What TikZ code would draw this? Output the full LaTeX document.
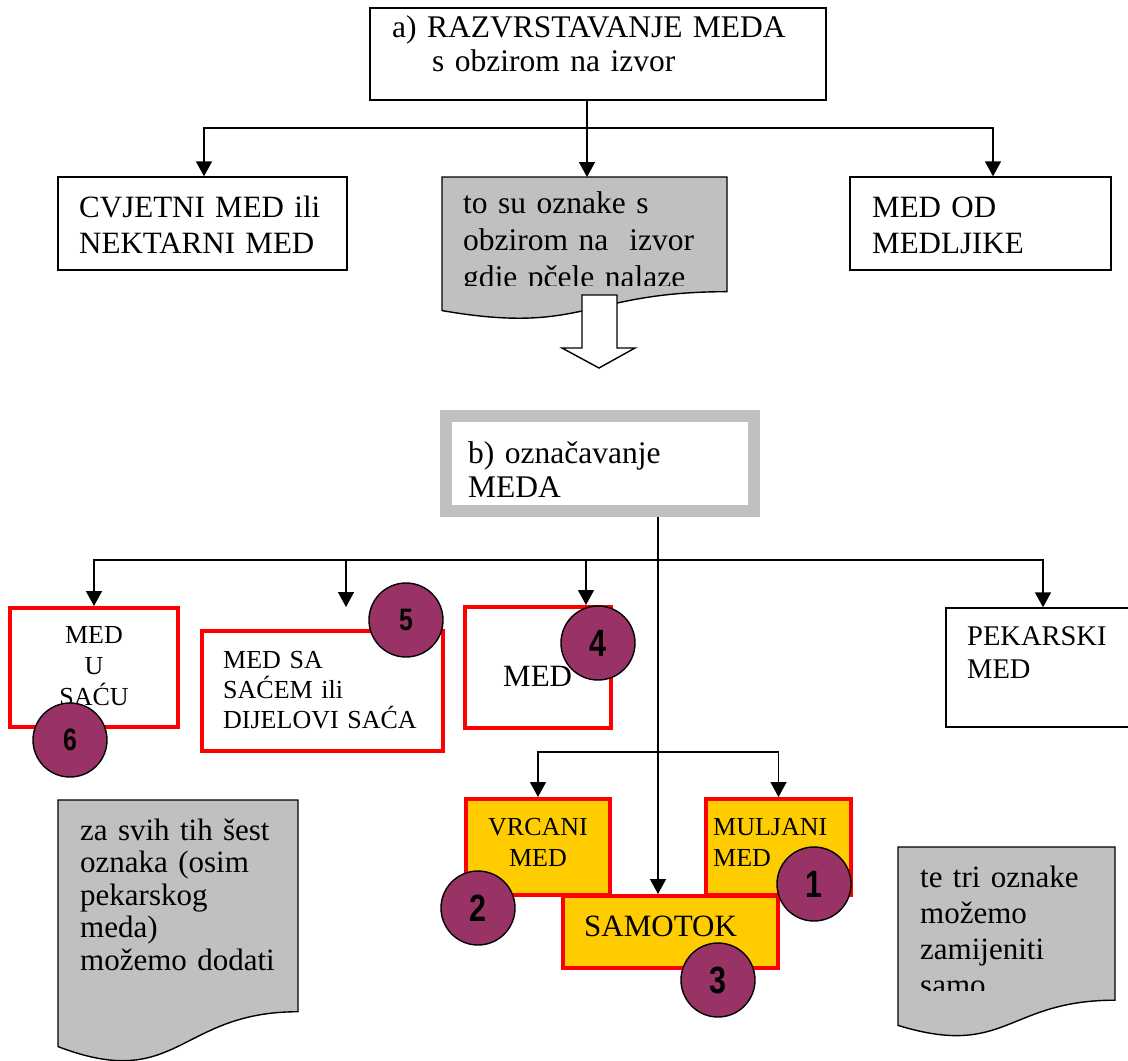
\documentclass[tikz,border=0pt]{standalone}
\usepackage{fontspec}
\setmainfont{Liberation Serif}
\setsansfont{Liberation Sans}
\usepackage{xcolor}
\usepackage{tikz}
\usetikzlibrary{arrows.meta}
\definecolor{honey}{HTML}{FFCC00}
\definecolor{badgeplum}{HTML}{993366}
\definecolor{notegray}{HTML}{C0C0C0}
\tikzset{%
  plainbox/.style={rectangle,draw=black,line width=1.4pt,fill=white,inner sep=0pt},
  redbox/.style={rectangle,draw=red,line width=4pt,fill=white,inner sep=0pt},
  honeybox/.style={redbox,fill=honey},
  graybox/.style={rectangle,draw=notegray,line width=12pt,fill=white,inner sep=0pt},
  notedoc/.style={draw=black,line width=1.4pt,fill=notegray},
  badge/.style={circle,draw=black,line width=1.4pt,fill=badgeplum,minimum size=74pt,inner sep=0pt},
  flow/.style={line width=1.5pt,-{Triangle[length=15pt,width=16pt]}},
  link/.style={line width=1.5pt},
  boxtext/.style={inner sep=0pt,anchor=base west,align=left,text width=480pt},
  midtext/.style={inner sep=0pt,anchor=base,align=center,text width=160pt}
}
\newcommand\fsz[2]{\fontsize{#1}{#2}\selectfont}
\newcommand\badgenum[2]{\scalebox{0.8}[1]{\fontsize{#1}{#1}\selectfont\sffamily\bfseries #2}}
\newcommand\notepath[4]{(#1,#2) -- ({#1+#3},#2) -- ({#1+#3},{#2+0.802*#4}) .. controls ({#1+0.5*#3},{#2+0.802*#4}) and ({#1+0.5*#3},{#2+1.108*#4}) .. (#1,{#2+0.934*#4}) -- cycle}

\begin{document}
\begin{tikzpicture}[x=1pt,y=-1pt]
    \useasboundingbox (0,0) rectangle (1128,1061);
    \node[plainbox,minimum width=456,minimum height=92](razbox) at (598,54){};
    \node[boxtext,font=\fsz{31.5}{34}](raztext) at (392,37){a) RAZVRSTAVANJE MEDA\\\hspace*{40pt}s obzirom na izvor};
    \node[plainbox,minimum width=289,minimum height=93](cvjbox) at (202.5,223.5){};
    \node[boxtext,font=\fsz{31}{36}](cvjtext) at (79,217){CVJETNI MED ili\\NEKTARNI MED};
    \node[plainbox,minimum width=261,minimum height=93](odbox) at (980.5,223.5){};
    \node[boxtext,font=\fsz{31}{36}](odtext) at (872,217){MED OD\\MEDLJIKE};
    \draw[notedoc]\notepath{442}{177}{285}{143};
    \coordinate(izvtop) at (587,177);
    \begin{scope}
        \clip (442,177) rectangle (727,285);
        \node[boxtext,font=\fsz{31.5}{37}](izvtext) at (463,213){to su oznake s\\obzirom na\ \ izvor\\gdje pčele nalaze};
    \end{scope}
    \draw[line width=1.4pt,fill=white](582,295)--(617,295)--(617,348)--(635,348)--(599,368)--(562,348)--(582,348)--cycle;
    \coordinate(busa) at (587,128);
    \draw[link](razbox.south-|busa)--(busa);
    \draw[flow](busa)-|([xshift=1.5pt]cvjbox.north);
    \draw[flow](busa)--(izvtop);
    \draw[flow](busa)-|([xshift=12.5pt]odbox.north);

    \node[graybox,minimum width=308,minimum height=95](oznbox) at (600,463.5){};
    \node[boxtext,font=\fsz{31.5}{34}](ozntext) at (468,463){b) označavanje\\MEDA};
    \node[redbox,minimum width=168,minimum height=119](sacubox) at (94,667.5){};
    \node[midtext,font=\fsz{26}{31}](sacutext) at (94,643){MED\\U\\SAĆU};
    \node[redbox,minimum width=241,minimum height=120](sacembox) at (322.5,691){};
    \node[boxtext,font=\fsz{26}{30}](sacemtext) at (223,668){MED SA\\SAĆEM ili\\DIJELOVI SAĆA};
    \node[redbox,minimum width=146,minimum height=121](medbox) at (538,667.5){};
    \node[boxtext,font=\fsz{31}{36}](medtext) at (503,686){MED};
    \node[plainbox,minimum width=194,minimum height=119](pekbox) at (1043,667.5){};
    \node[boxtext,font=\fsz{28.5}{33}](pektext) at (967,645){PEKARSKI\\MED};
    \node[honeybox,minimum width=144,minimum height=96](vrcbox) at (538,847){};
    \node[midtext,font=\fsz{26}{31}](vrctext) at (538,835){VRCANI\\MED};
    \node[honeybox,minimum width=145,minimum height=96](mulbox) at (778.5,847){};
    \node[boxtext,font=\fsz{26}{31}](multext) at (713,835){MULJANI\\MED};
    \node[honeybox,minimum width=215,minimum height=72](sambox) at (670.5,932){};
    \node[boxtext,font=\fsz{31}{36}](samtext) at (584,936){SAMOTOK};

    \coordinate(spine) at ([xshift=58pt]oznbox.south);
    \coordinate(busb) at (658,560);
    \coordinate(busc) at (658,752);
    \coordinate(sacemtip) at (346,607);
    \draw[flow](spine)--(spine|-sambox.north);
    \draw[flow](busb)-|(sacubox.north);
    \draw[flow](busb)-|(sacemtip);
    \draw[flow](busb)-|([xshift=48pt]medbox.north);
    \draw[flow](busb)-|(pekbox.north);
    \draw[flow](busc)-|(vrcbox.north);
    \draw[flow](busc)-|(mulbox.north);

    \node[badge](mark1) at (814,884){\badgenum{38}{1}};
    \node[badge](mark2) at (478,908){\badgenum{38}{2}};
    \node[badge](mark3) at (718,980){\badgenum{38}{3}};
    \node[badge](mark4) at (598,643){\badgenum{38}{4}};
    \node[badge](mark5) at (406,620){\badgenum{31}{5}};
    \node[badge](mark6) at (70,740){\badgenum{31}{6}};

    \draw[notedoc]\notepath{58}{800}{240}{264};
    \node[boxtext,font=\fsz{31}{32.5}](svihtext) at (80,840){za svih tih šest\\oznaka (osim\\pekarskog\\meda)\\možemo dodati};
    \draw[notedoc]\notepath{898}{847}{217}{191};
    \begin{scope}
        \clip (898,847) rectangle (1115,990);
        \node[boxtext,font=\fsz{31}{36}](tritext) at (920,887){te tri oznake\\možemo\\zamijeniti\\samo};
    \end{scope}
\end{tikzpicture}
\end{document}
